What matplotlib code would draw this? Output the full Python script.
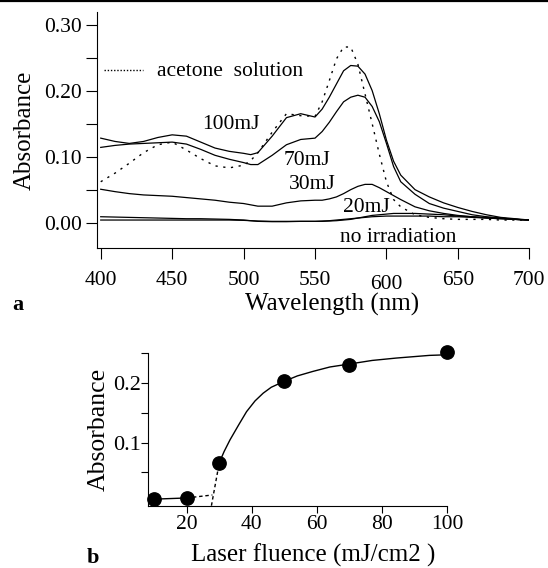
import matplotlib
matplotlib.use("Agg")
import matplotlib.pyplot as plt
import matplotlib.transforms as mtransforms
from matplotlib.ticker import FixedLocator, FormatStrFormatter

plt.rcParams["font.family"] = ["Liberation Serif", "DejaVu Serif"]

# --- panel a: absorption spectra -------------------------------------------
wavelength = [400, 410, 420, 430, 440, 450, 460, 470, 480, 490, 500, 505, 510,
              520, 530, 540, 550, 555, 560, 565, 570, 575, 580, 585, 590, 595,
              600, 605, 610, 620, 630, 640, 650, 660, 670, 680, 690, 700]

abs_acetone = [0.062, 0.075, 0.090, 0.106, 0.118, 0.122, 0.110, 0.097, 0.086,
               0.083, 0.087, 0.094, 0.106, 0.137, 0.165, 0.162, 0.161, 0.183,
               0.215, 0.248, 0.266, 0.266, 0.240, 0.195, 0.150, 0.104, 0.062,
               0.035, 0.024, 0.012, 0.008, 0.006, 0.005, 0.005, 0.005, 0.004,
               0.004, 0.004]

abs_100mJ = [0.128, 0.123, 0.120, 0.123, 0.129, 0.133, 0.131, 0.122, 0.113,
             0.108, 0.105, 0.103, 0.106, 0.131, 0.159, 0.165, 0.160, 0.172,
             0.190, 0.210, 0.230, 0.238, 0.237, 0.225, 0.200, 0.165, 0.125,
             0.093, 0.072, 0.050, 0.039, 0.030, 0.023, 0.017, 0.012, 0.008,
             0.006, 0.004]

abs_70mJ = [0.114, 0.117, 0.119, 0.120, 0.121, 0.122, 0.119, 0.111, 0.102,
            0.096, 0.091, 0.088, 0.088, 0.102, 0.118, 0.126, 0.128, 0.138,
            0.152, 0.168, 0.183, 0.190, 0.193, 0.190, 0.176, 0.153, 0.120,
            0.085, 0.062, 0.043, 0.029, 0.022, 0.017, 0.012, 0.009, 0.007,
            0.005, 0.004]

abs_30mJ = [0.0506, 0.047, 0.044, 0.042, 0.041, 0.040, 0.038, 0.036, 0.034,
            0.031, 0.029, 0.027, 0.025, 0.025, 0.030, 0.033, 0.034, 0.034,
            0.036, 0.039, 0.044, 0.050, 0.055, 0.058, 0.058, 0.053, 0.047,
            0.041, 0.035, 0.024, 0.018, 0.014, 0.011, 0.009, 0.007, 0.006,
            0.005, 0.004]

abs_20mJ = [0.009, 0.0085, 0.008, 0.0075, 0.007, 0.0065, 0.006, 0.006, 0.0055,
            0.005, 0.004, 0.003, 0.002, 0.0015, 0.0015, 0.002, 0.002, 0.002,
            0.0025, 0.003, 0.004, 0.005, 0.007, 0.009, 0.011, 0.012, 0.013,
            0.014, 0.014, 0.014, 0.013, 0.012, 0.010, 0.009, 0.008, 0.007,
            0.005, 0.004]

abs_none = [0.004, 0.004, 0.004, 0.004, 0.004, 0.004, 0.004, 0.004, 0.004,
            0.004, 0.0035, 0.003, 0.0025, 0.002, 0.002, 0.002, 0.002, 0.0025,
            0.003, 0.004, 0.005, 0.006, 0.007, 0.008, 0.009, 0.0095, 0.010,
            0.010, 0.010, 0.010, 0.010, 0.009, 0.009, 0.008, 0.007, 0.006,
            0.005, 0.004]

# --- panel b: absorbance vs laser fluence ----------------------------------
fluence = [10, 20, 30, 50, 70, 100]
absorbance = [0.005, 0.007, 0.066, 0.203, 0.231, 0.252]

fit_fluence = [30, 31.5, 33.3, 36, 38.4, 41, 43.5, 46, 50, 54, 58.8, 64, 70,
               77, 84.4, 94.6, 100]
fit_absorbance = [0.066, 0.085, 0.1045, 0.130, 0.152, 0.170, 0.183, 0.193,
                  0.203, 0.212, 0.2196, 0.227, 0.232, 0.238, 0.242, 0.2465,
                  0.2475]

W, H = 548, 568
fig = plt.figure(figsize=(W / 100, H / 100), dpi=100)

# top border rule
fig.add_artist(plt.Line2D([0, 1], [1 - 1 / H, 1 - 1 / H], color="black",
                          lw=1.6, transform=fig.transFigure))

ax = fig.add_axes([97.3 / W, 1 - 248.3 / H, (529.3 - 97.3) / W,
                   (248.3 - 12) / H])
dotted = (0, (1.6, 4.0))
ax.plot(wavelength, abs_acetone, color="black", lw=1.0, linestyle=dotted)
for series in (abs_100mJ, abs_70mJ, abs_30mJ, abs_20mJ, abs_none):
    ax.plot(wavelength, series, color="black", lw=0.9)

ax.set_xlim(397.6, 700)
ax.set_ylim(-0.0388, 0.319)
for side in ("top", "right"):
    ax.spines[side].set_visible(False)
for side in ("left", "bottom"):
    ax.spines[side].set_linewidth(0.8)
ax.xaxis.set_major_locator(FixedLocator([400, 450, 500, 550, 600, 650, 700]))
ax.yaxis.set_major_locator(FixedLocator([0.0, 0.1, 0.2, 0.3]))
ax.yaxis.set_minor_locator(FixedLocator([0.05, 0.15, 0.25]))
ax.yaxis.set_major_formatter(FormatStrFormatter("%.2f"))
ax.tick_params(axis="y", which="both", length=7.7, width=0.8, pad=3.6,
               labelsize=15.5)
ax.tick_params(axis="x", length=7.9, width=0.8, pad=8.5, labelsize=15.5)
ax.set_ylabel("Absorbance", fontsize=18, labelpad=6)

# the "600" label sits a little lower in the original
fig.canvas.draw()
for lab in ax.get_xticklabels():
    if lab.get_text() == "600":
        lab.set_transform(lab.get_transform() + mtransforms.ScaledTranslation(
            0, -3 / 72, fig.dpi_scale_trans))

ax.plot([402.4, 429.4], [0.2314, 0.2314], color="black", lw=1.0,
        linestyle=(0, (1, 1.3)))
ax.text(439.2, 0.2223, "acetone  solution", fontsize=15.5, ha="left",
        va="baseline")
ax.text(491.2, 0.1415, "100mJ", fontsize=15.5, ha="center", va="baseline")
ax.text(544.3, 0.0874, "70mJ", fontsize=15.5, ha="center", va="baseline")
ax.text(547.8, 0.0506, "30mJ", fontsize=15.5, ha="center", va="baseline")
ax.text(586.3, 0.0167, "20mJ", fontsize=15.5, ha="center", va="baseline")
ax.text(608.4, -0.0288, "no irradiation", fontsize=15.5, ha="center",
        va="baseline")

fig.text(332 / W, 1 - 311 / H, "Wavelength (nm)", fontsize=18, ha="center",
         va="baseline")
fig.text(17.5 / W, 1 - 310 / H, "a", fontsize=16, fontweight="bold",
         ha="center", va="baseline")

# --- bottom panel -----------------------------------------------------------
bx = fig.add_axes([148.3 / W, 1 - 505.7 / H, (447 - 148.3) / W,
                   (505.7 - 353.3) / H])
bx.plot(fluence[:2], absorbance[:2], color="black", lw=1.0)
bx.plot([fluence[1], 27.9], [absorbance[1], 0.012], color="black", lw=1.0,
        linestyle=(0, (2.5, 2)), clip_on=False)
bx.plot([27.6, fluence[2]], [-0.006, absorbance[2]], color="black", lw=1.0,
        linestyle=(0, (2.5, 2)), clip_on=False)
bx.plot(fit_fluence, fit_absorbance, color="black", lw=1.0, clip_on=False)
bx.plot(fluence, absorbance, "o", color="black", ms=9.6, clip_on=False,
        zorder=5)

bx.set_xlim(8.2, 100)
bx.set_ylim(-0.006, 0.250)
for side in ("top", "right"):
    bx.spines[side].set_visible(False)
for side in ("left", "bottom"):
    bx.spines[side].set_linewidth(0.8)
bx.xaxis.set_major_locator(FixedLocator([20, 40, 60, 80, 100]))
bx.yaxis.set_major_locator(FixedLocator([0.1, 0.2]))
bx.yaxis.set_minor_locator(FixedLocator([0.05, 0.15, 0.25]))
bx.yaxis.set_major_formatter(FormatStrFormatter("%.1f"))
bx.tick_params(axis="y", which="both", length=5, width=0.8, pad=0.5,
               labelsize=16)
bx.tick_params(axis="x", length=5, width=0.8, pad=2, labelsize=15.5)
bx.set_ylabel("Absorbance", fontsize=18.5, labelpad=2)

fig.text(313 / W, 1 - 561.7 / H, "Laser fluence (mJ/cm2 )", fontsize=18,
         ha="center", va="baseline")
fig.text(93 / W, 1 - 563 / H, "b", fontsize=16, fontweight="bold",
         ha="center", va="baseline")

fig.savefig("out.png", dpi=100)
